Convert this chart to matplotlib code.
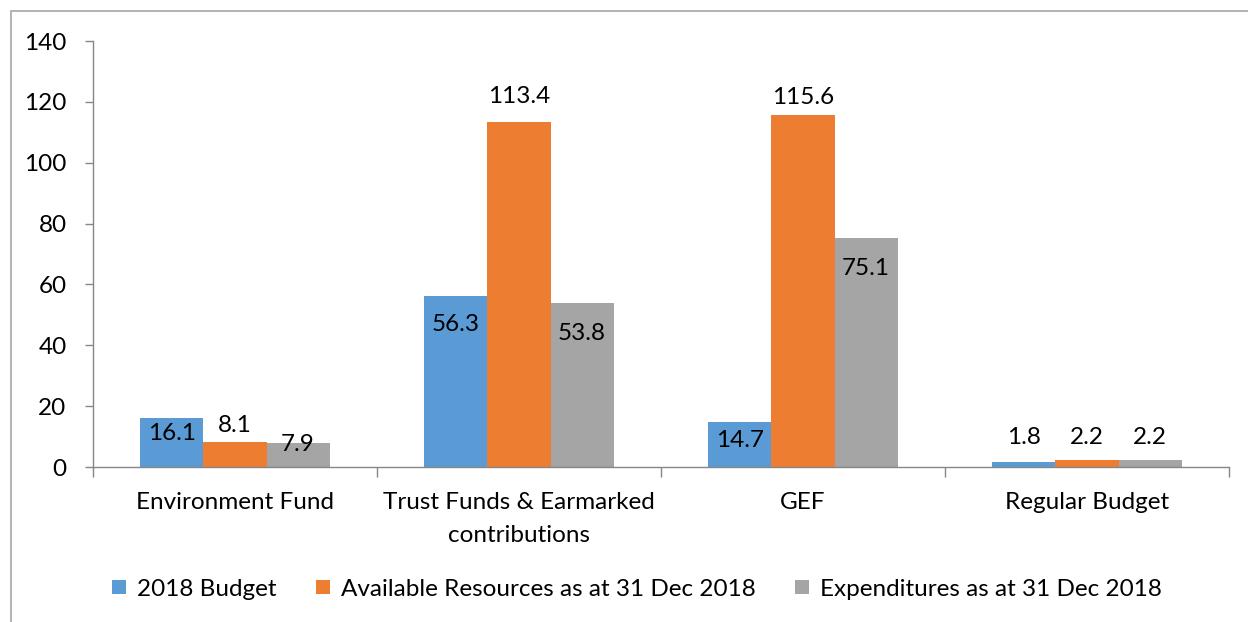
import matplotlib
matplotlib.use("Agg")
import matplotlib.pyplot as plt
from matplotlib.patches import Patch, Rectangle

plt.rcParams['font.family'] = ['Lato', 'DejaVu Sans']

categories = ['Environment Fund', 'Trust Funds & Earmarked\ncontributions', 'GEF', 'Regular Budget']
series_names = ['2018 Budget', 'Available Resources as at 31 Dec 2018', 'Expenditures as at 31 Dec 2018']
budget = [16.1, 56.3, 14.7, 1.8]
available = [8.1, 113.4, 115.6, 2.2]
expenditures = [7.9, 53.8, 75.1, 2.2]
series = [budget, available, expenditures]

colors = ['#5B9BD5', '#ED7D31', '#A5A5A5']
# label offset from bar top, in pixels (Excel-ish inside end / outside end)
label_offsets = [
    [-15, -29, -18, 24],
    [17, 25, 18, 23],
    [-2, -30, -30, 23],
]

FS = 17.5
fig = plt.figure(figsize=(12.48, 6.22), dpi=100)
ax = fig.add_axes([93 / 1248, 1 - 467 / 622, (1229 - 93) / 1248, (467 - 41) / 622])

w = 0.222
for j, vals in enumerate(series):
    xs = [i + (j - 1) * w for i in range(len(categories))]
    ax.bar(xs, vals, width=w, color=colors[j], linewidth=0)
    for x, v, off in zip(xs, vals, label_offsets[j]):
        ax.annotate(f'{v:.1f}', (x, v), xytext=(0, off), textcoords='offset pixels',
                    ha='center', va='center', fontsize=FS, color='black')

ax.set_xlim(-0.5, len(categories) - 0.5)
ax.set_ylim(0, 140)
ax.set_yticks(range(0, 141, 20))
ax.tick_params(axis='y', length=6, width=1, color='#868686', pad=13, labelsize=FS)

ax.set_xticks([i - 0.5 for i in range(len(categories) + 1)])
ax.set_xticklabels([])
ax.tick_params(axis='x', which='major', length=7, width=1, color='#868686', direction='out')
ax.set_xticks(range(len(categories)), minor=True)
ax.set_xticklabels(categories, minor=True, fontsize=FS, linespacing=1.7)
ax.tick_params(axis='x', which='minor', length=0, pad=18)

for s in ['top', 'right']:
    ax.spines[s].set_visible(False)
for s in ['left', 'bottom']:
    ax.spines[s].set_color('#868686')
    ax.spines[s].set_linewidth(1)

handles = [Patch(facecolor=c, edgecolor='none') for c in colors]
fig.legend(handles, series_names, loc='center', bbox_to_anchor=(637 / 1248, 1 - 589 / 622),
           ncol=3, frameon=False, fontsize=FS, handlelength=0.55, handleheight=0.55,
           handletextpad=0.45, columnspacing=1.65)

# chart border (cut off at right and bottom in the reference)
fig.patches.append(Rectangle((11 / 1248, -0.1), 1.2, 1 - 11 / 622 + 0.1,
                             transform=fig.transFigure, fill=False,
                             edgecolor='#A6A6A6', linewidth=1.2))

fig.savefig('out.png', dpi=100)
